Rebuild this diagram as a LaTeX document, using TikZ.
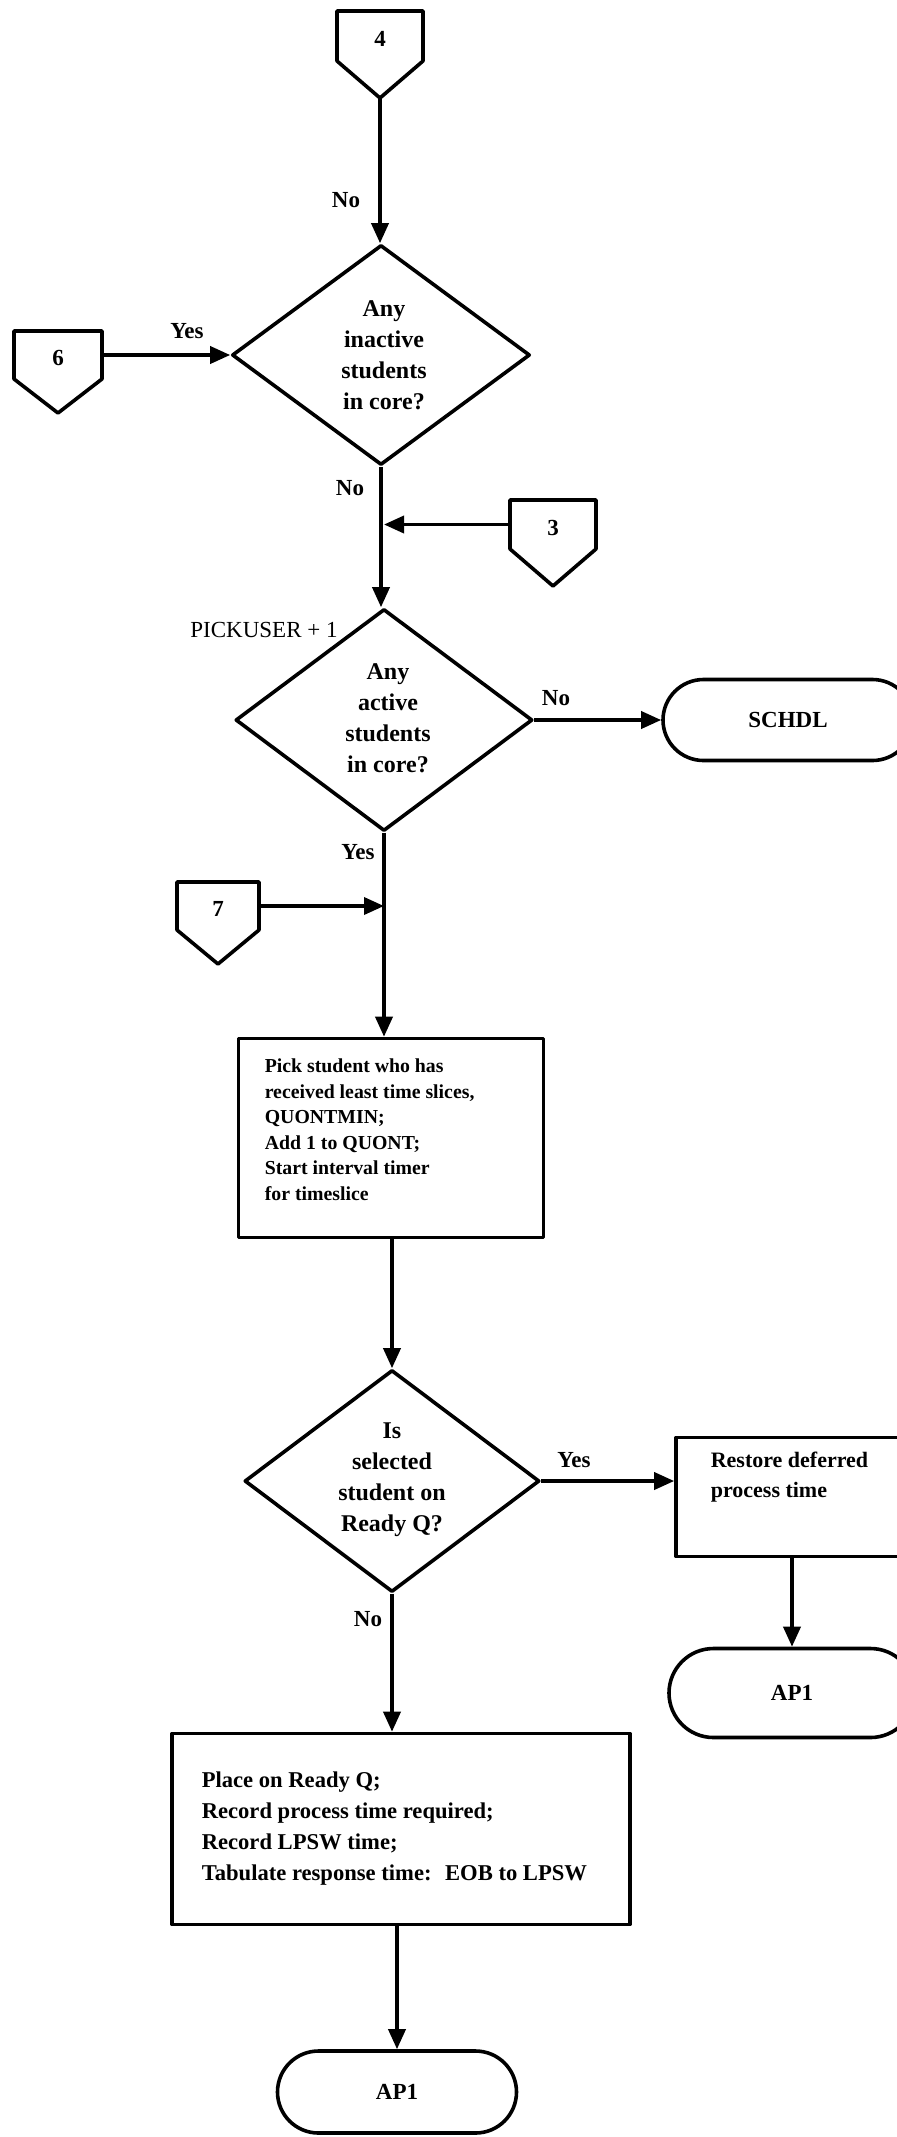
\documentclass[tikz,border=0pt]{standalone}
\usepackage{fontspec}
\setmainfont{Liberation Serif}
\usetikzlibrary{shapes.geometric,shapes.misc,arrows.meta}
\newcommand{\offpg}[7]{%
  \draw (#2-#4,#3) -- (#2+#4,#3) -- (#2+#4,#5) -- (#2,#6) -- (#2-#4,#5) -- cycle;
  \coordinate (#1-tip) at (#2,#6);
  \coordinate (#1-l) at (#2-#4,{(#3+#5)/2});
  \coordinate (#1-r) at (#2+#4,{(#3+#5)/2});
  \node[lbl] (#1) at (#2,{(#3+#5)/2+3}) {#7};
}
\begin{document}
\begin{tikzpicture}[x=0.5pt,y=-0.5pt,
  line width=1.8pt, line join=round,
  arr/.style={-{Triangle[length=10pt,width=8.5pt]}},
  decision/.style={draw, diamond, inner sep=0pt},
  dtext/.style={align=center, font=\bfseries\fontsize{12}{15.5}\selectfont, inner sep=0pt},
  procbox/.style={draw, rectangle, inner sep=0pt},
  ptext/.style={align=left, inner sep=0pt, anchor=north west},
  term/.style={draw, rounded rectangle, inner sep=0pt, font=\bfseries\fontsize{11.5}{14}\selectfont},
  lbl/.style={inner sep=0pt, font=\bfseries\fontsize{11.5}{14}\selectfont}
]
\useasboundingbox (0,0) rectangle (897,2137);

% off-page connectors
\offpg{c4}{380}{11}{43}{61}{98}{4}
\offpg{c6}{58}{331}{44}{379}{413}{6}
\offpg{c3}{553}{500}{43}{549}{586}{3}
\offpg{c7}{218}{882}{41}{930}{964}{7}

% decisions
\node[decision, minimum width=149pt, minimum height=110pt] (d1) at (381,355) {};
\node[dtext] (d1t) at (384,355) {Any\\inactive\\students\\in core?};
\node[decision, minimum width=148.5pt, minimum height=111pt] (d2) at (384,720) {};
\node[dtext] (d2t) at (388,718) {Any\\active\\students\\in core?};
\node[decision, minimum width=147.5pt, minimum height=111pt] (d3) at (392,1481) {};
\node[dtext] (d3t) at (392,1480) {Is\\selected\\student on\\Ready Q?};

% process boxes
\node[procbox, minimum width=152.5pt, minimum height=99.5pt] (b1) at (391,1138) {};
\node[ptext, font=\bfseries\fontsize{9.9}{12.8}\selectfont] (b1t) at (263,1057)
  {Pick student who has\\received least time slices,\\QUONTMIN;\\Add 1 to QUONT;\\Start interval timer\\for timeslice};
\node[procbox, minimum width=229pt, minimum height=95.5pt] (b2) at (401,1829) {};
\node[ptext, anchor=west, font=\bfseries\fontsize{11.3}{15.5}\selectfont] (b2t) at (200,1829)
  {Place on Ready Q;\\Record process time required;\\Record LPSW time;\\Tabulate response time:\hspace{0.6em}EOB to LPSW};
\node[procbox, minimum width=116pt, minimum height=59.5pt] (rest) at (792,1497) {};
\node[ptext, font=\bfseries\fontsize{11}{15}\selectfont] (restt) at (709,1450)
  {Restore deferred\\process time};

% terminals
\node[term, minimum width=125pt, minimum height=40.5pt] (schdl) at (788,720) {SCHDL};
\node[term, minimum width=123pt, minimum height=44.5pt] (ap1r) at (792,1693) {AP1};
\node[term, minimum width=119.5pt, minimum height=41pt] (ap1) at (397,2092) {AP1};

% junction points
\coordinate (j3) at (384,524.5);
\coordinate (j7) at (384,906);

% connectors
\draw[arr] (c4-tip) -- (c4-tip |- d1.north);
\draw[arr] (c6-r) -- (d1.west);
\draw[arr] (d1.south) -- (d1.south |- d2.north);
\draw[arr] (c3-l) -- (j3);
\draw[arr] (d2.east) -- (schdl.west);
\draw[arr] (c7-r) -- (j7);
\draw[arr] (d2.south) -- (d2.south |- b1.north);
\draw[arr] (b1.south -| d3.north) -- (d3.north);
\draw[arr] (d3.east) -- (d3.east -| rest.west);
\draw[arr] (rest.south) -- (ap1r.north);
\draw[arr] (d3.south) -- (d3.south |- b2.north);
\draw[arr] (b2.south -| ap1.north) -- (ap1.north);

% labels
\node[lbl] (l1) at (346,200) {No};
\node[lbl] (l2) at (187,331) {Yes};
\node[lbl] (l3) at (350,488) {No};
\node[lbl, font=\fontsize{11.5}{14}\selectfont] (l4) at (264,630) {PICKUSER + 1};
\node[lbl] (l5) at (556,698) {No};
\node[lbl] (l6) at (358,852) {Yes};
\node[lbl] (l7) at (574,1460) {Yes};
\node[lbl] (l8) at (368,1619) {No};
\end{tikzpicture}
\end{document}
